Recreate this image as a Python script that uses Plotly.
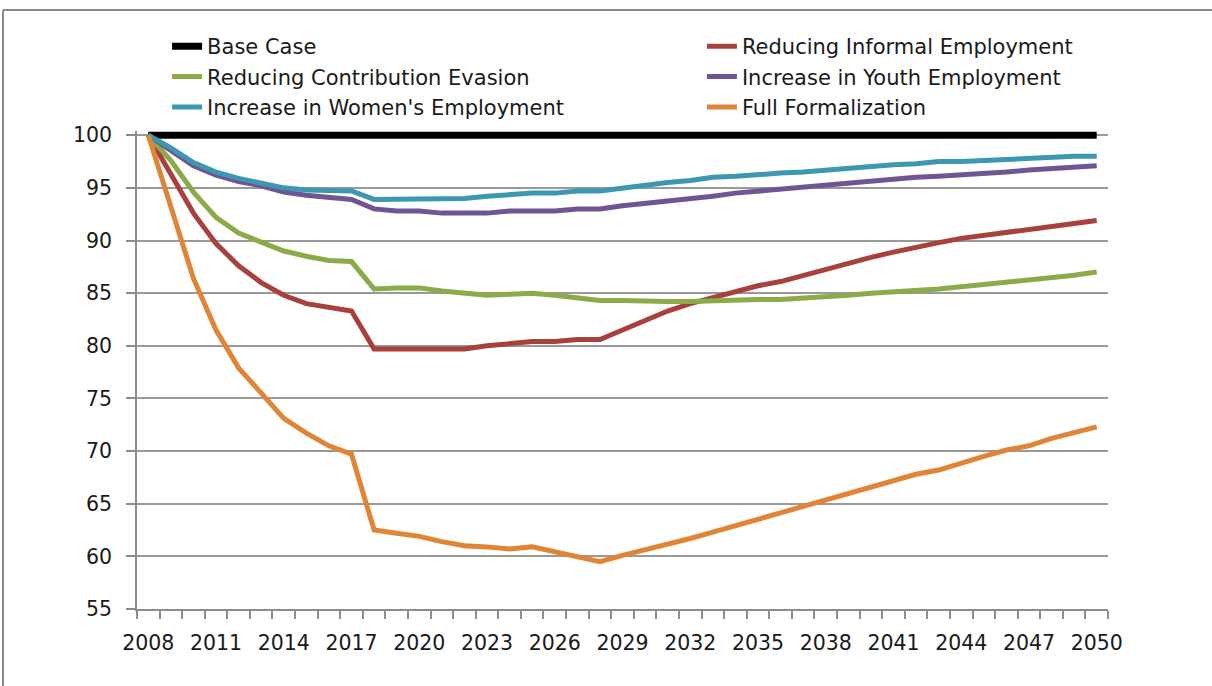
import plotly.graph_objects as go

years = list(range(2008, 2051))

base_case = [100.0] * 43
reducing_informal = [100, 96.4, 92.6, 89.7, 87.6, 86.0, 84.8, 84.0, 83.6, 83.3,
                     79.7, 79.7, 79.7, 79.7, 79.7, 80.0, 80.2, 80.4, 80.4, 80.6,
                     80.6, 81.5, 82.4, 83.3, 84.0, 84.6, 85.2, 85.7, 86.1, 86.7,
                     87.3, 87.9, 88.4, 88.9, 89.4, 89.8, 90.2, 90.5, 90.8, 91.0,
                     91.3, 91.6, 91.9]
reducing_evasion = [100, 97.6, 94.6, 92.2, 90.7, 89.9, 89.0, 88.5, 88.1, 88.0,
                    85.4, 85.5, 85.5, 85.2, 85.0, 84.8, 84.9, 85.0, 84.8, 84.5,
                    84.3, 84.3, 84.2, 84.2, 84.2, 84.3, 84.4, 84.4, 84.4, 84.5,
                    84.7, 84.8, 85.0, 85.1, 85.2, 85.4, 85.6, 85.8, 86.0, 86.2,
                    86.4, 86.7, 87.0]
youth_employment = [100, 98.5, 97.1, 96.2, 95.6, 95.2, 94.6, 94.3, 94.1, 93.9,
                    93.0, 92.8, 92.8, 92.6, 92.6, 92.6, 92.8, 92.8, 92.8, 93.0,
                    93.0, 93.3, 93.5, 93.8, 94.0, 94.2, 94.5, 94.7, 94.9, 95.1,
                    95.3, 95.4, 95.6, 95.8, 96.0, 96.1, 96.2, 96.4, 96.5, 96.7,
                    96.8, 97.0, 97.1]
women_employment = [100, 98.8, 97.4, 96.5, 95.9, 95.5, 95.0, 94.8, 94.7, 94.7,
                    93.9, 93.9, 93.9, 94.0, 94.0, 94.2, 94.4, 94.5, 94.5, 94.7,
                    94.7, 95.0, 95.3, 95.5, 95.7, 96.0, 96.1, 96.3, 96.4, 96.5,
                    96.7, 96.9, 97.0, 97.2, 97.3, 97.5, 97.5, 97.6, 97.8, 97.8,
                    97.9, 98.0, 98.0]
full_formalization = [100, 93.0, 86.4, 81.5, 77.9, 75.5, 73.1, 71.7, 70.5, 69.7,
                      62.5, 62.2, 61.9, 61.4, 61.0, 60.9, 60.7, 60.9, 60.4, 59.9,
                      59.5, 60.1, 60.6, 61.1, 61.7, 62.3, 62.9, 63.5, 64.1, 64.7,
                      65.3, 65.9, 66.6, 67.2, 67.8, 68.2, 68.9, 69.5, 70.1, 70.5,
                      71.2, 71.8, 72.3]

series_names = ["Base Case", "Reducing Informal Employment",
                "Reducing Contribution Evasion", "Increase in Youth Employment",
                "Increase in Women's Employment", "Full Formalization"]
series_values = [base_case, reducing_informal, reducing_evasion,
                 youth_employment, women_employment, full_formalization]
series_colors = ["#000000", "#A8413E", "#8AAB47", "#6F5592", "#3D97B0", "#E08536"]
series_widths = [7, 5, 5, 5, 5, 5]
legend_column = ["legend", "legend2", "legend", "legend2", "legend", "legend2"]

x_tick_labels = [str(y) for y in range(2008, 2051, 3)]
y_tick_values = list(range(55, 101, 5))

fig = go.Figure()
for name, vals, col, w, lg in zip(series_names, series_values, series_colors,
                                  series_widths, legend_column):
    fig.add_trace(go.Scatter(x=years, y=vals, mode="lines", name=name,
                             legend=lg, line=dict(color=col, width=w)))

FONT = "DejaVu Sans"
TXT = "#1a1a1a"
legend_common = dict(orientation="v", xanchor="left", yanchor="top",
                     y=1.2194, bgcolor="rgba(0,0,0,0)", tracegroupgap=0,
                     font=dict(family=FONT, size=21, color=TXT))

fig.update_layout(
    width=1212, height=686,
    margin=dict(l=137, r=104, t=131, b=77),
    paper_bgcolor="white", plot_bgcolor="white",
    font=dict(family=FONT, size=20, color=TXT),
    showlegend=True,
    legend=dict(x=0.031, **legend_common),
    legend2=dict(x=0.5818, **legend_common),
    xaxis=dict(range=[2007.5, 2050.5], tickmode="array",
               tickvals=[int(t) for t in x_tick_labels], ticktext=x_tick_labels,
               ticks="", showgrid=False, zeroline=False,
               showline=True, linecolor="#8c8c8c", linewidth=1.5,
               ticklabelstandoff=15,
               tickfont=dict(family=FONT, size=20.5, color=TXT),
               minor=dict(tickmode="linear", tick0=2007.5, dtick=1,
                          ticks="outside", ticklen=8, tickcolor="#8c8c8c",
                          tickwidth=1.5, showgrid=False)),
    yaxis=dict(range=[55, 100.4], tickmode="array", tickvals=y_tick_values,
               ticks="outside", ticklen=9, tickcolor="#8c8c8c", tickwidth=1.5,
               ticklabelstandoff=10,
               showgrid=True, gridcolor="#999999", gridwidth=1.5,
               zeroline=False, showline=True, linecolor="#8c8c8c", linewidth=1.5,
               tickfont=dict(family=FONT, size=20.5, color=TXT)),
)

# outer chart frame (top and left edges visible in reference)
fig.add_shape(type="line", xref="paper", yref="paper",
              x0=(3 - 137) / 971, x1=(1215 - 137) / 971,
              y0=(609 - 10) / 478, y1=(609 - 10) / 478,
              line=dict(color="#8a8a8a", width=2))
fig.add_shape(type="line", xref="paper", yref="paper",
              x0=(3 - 137) / 971, x1=(3 - 137) / 971,
              y0=(609 - 10) / 478, y1=(609 - 690) / 478,
              line=dict(color="#8a8a8a", width=2))

fig.write_html("out.html", config={"displayModeBar": False},
               post_script="document.body.style.margin='0px';"
                           "document.body.style.overflow='hidden';")
